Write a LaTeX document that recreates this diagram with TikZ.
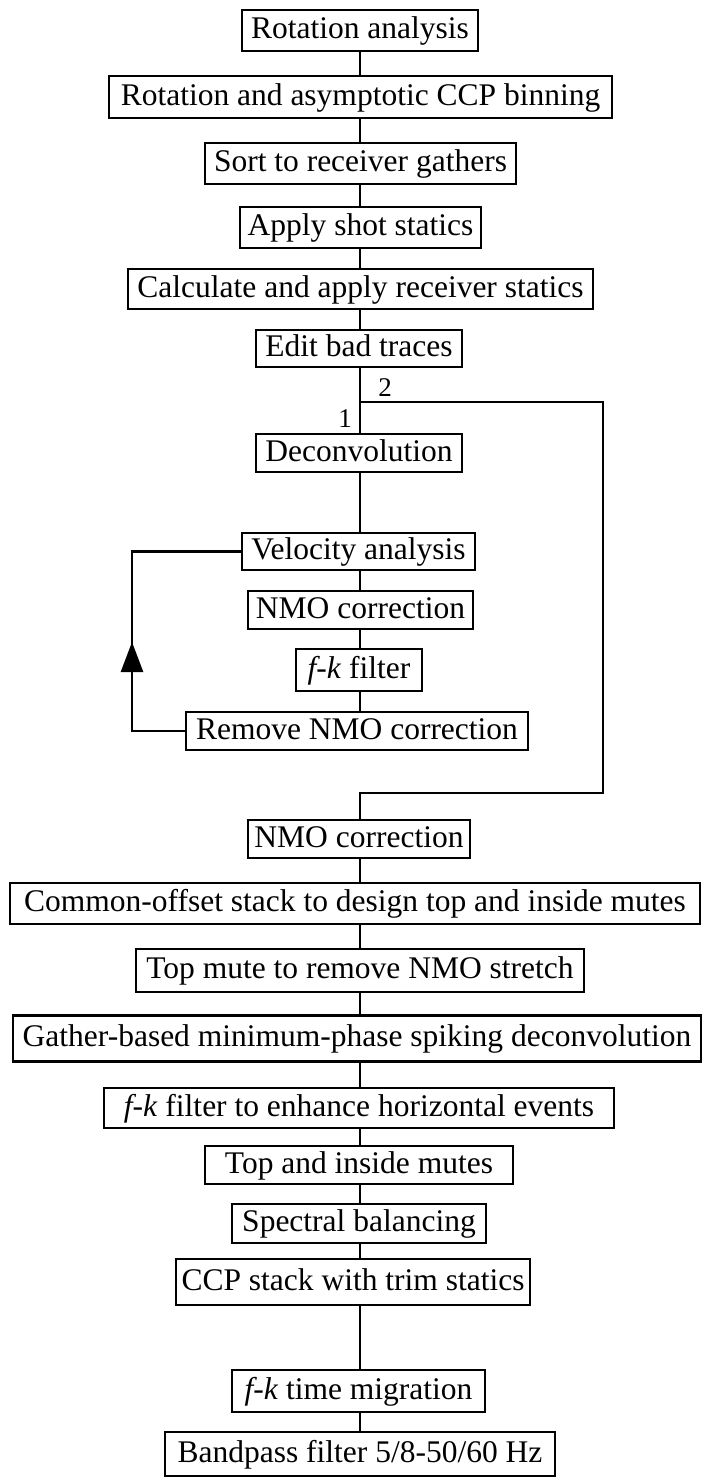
\documentclass[tikz,border=0pt]{standalone}
\usepackage{fontspec}
\setmainfont{Liberation Serif}
\usetikzlibrary{arrows.meta}

\begin{document}
\begin{tikzpicture}[x=1pt, y=-1pt, line width=2.6pt,
    font=\fontsize{31.5}{36}\selectfont,
    proc/.style={draw, rectangle, inner xsep=3pt, inner ysep=0pt, text height=22pt, text depth=6pt},
    lbl/.style={font=\fontsize{27}{30}\selectfont, inner sep=0pt}]
    \useasboundingbox (0,0) rectangle (702,1478);
    \coordinate (ax) at (360,0);
    \node[proc, minimum width=236pt, minimum height=41pt] (rot) at (360,30.5) {Rotation analysis};
    \node[proc, minimum width=503pt, minimum height=42pt] (ccpbin) at (360.5,97) {Rotation and asymptotic CCP binning};
    \node[proc, minimum width=311pt, minimum height=41pt] (sortrcv) at (360.5,163.5) {Sort to receiver gathers};
    \node[proc, minimum width=241pt, minimum height=41pt] (shot) at (360.5,227.5) {Apply shot statics};
    \node[proc, minimum width=465pt, minimum height=40pt] (rcvstat) at (360.5,289) {Calculate and apply receiver statics};
    \node[proc, minimum width=206pt, minimum height=37pt] (edit) at (359,348.5) {Edit bad traces};
    \node[proc, minimum width=206pt, minimum height=38pt] (decon) at (359,453) {Deconvolution};
    \node[proc, minimum width=233pt, minimum height=37pt] (vel) at (358.5,551.5) {Velocity analysis};
    \node[proc, minimum width=225pt, minimum height=38pt] (nmoA) at (360.5,610) {NMO correction};
    \node[proc, minimum width=126pt, minimum height=42pt] (fk) at (359,670) {\textit{f-k} filter};
    \node[proc, minimum width=342pt, minimum height=38pt] (rmnmo) at (357,731) {Remove NMO correction};
    \node[proc, minimum width=222pt, minimum height=38pt] (nmoB) at (359,839) {NMO correction};
    \node[proc, minimum width=690pt, minimum height=41pt] (cos) at (355,903.5) {Common-offset stack to design top and inside mutes};
    \node[proc, minimum width=448pt, minimum height=43pt] (topmute) at (360,970.5) {Top mute to remove NMO stretch};
    \node[proc, minimum width=688pt, minimum height=46pt] (gather) at (357,1038.5) {Gather-based minimum-phase spiking deconvolution};
    \node[proc, minimum width=510pt, minimum height=40pt] (fkenh) at (359,1108) {\textit{f-k} filter to enhance horizontal events};
    \node[proc, minimum width=308pt, minimum height=38pt] (topin) at (359,1165) {Top and inside mutes};
    \node[proc, minimum width=254pt, minimum height=39pt] (spec) at (359,1223.5) {Spectral balancing};
    \node[proc, minimum width=354pt, minimum height=46pt] (ccpstk) at (353,1282) {CCP stack with trim statics};
    \node[proc, minimum width=253pt, minimum height=42pt] (fkmig) at (358.5,1391) {\textit{f-k} time migration};
    \node[proc, minimum width=390pt, minimum height=44pt] (band) at (360,1454) {Bandpass filter 5/8-50/60 Hz};
    \foreach \a/\b in {rot/ccpbin, ccpbin/sortrcv, sortrcv/shot, shot/rcvstat, rcvstat/edit,
        edit/decon, decon/vel, vel/nmoA, nmoA/fk, fk/rmnmo,
        nmoB/cos, cos/topmute, topmute/gather, gather/fkenh, fkenh/topin, topin/spec,
        spec/ccpstk, ccpstk/fkmig, fkmig/band}
        \draw (\a.south -| ax) -- (\b.north -| ax);
    \coordinate (split) at (360,402);
    \coordinate (joinR) at (603,793);
    \draw (split) -| (joinR) -| (nmoB.north -| ax);
    \node[lbl] (one) at (345,419) {1};
    \node[lbl] (two) at (385,388) {2};
    \coordinate (loopmid) at (132,642);
    \draw (rmnmo.west) -| (loopmid) |- (vel.west);
    \draw[-{Triangle[length=30pt,width=22pt]}] (rmnmo.west -| loopmid) -- (loopmid);
\end{tikzpicture}
\end{document}
